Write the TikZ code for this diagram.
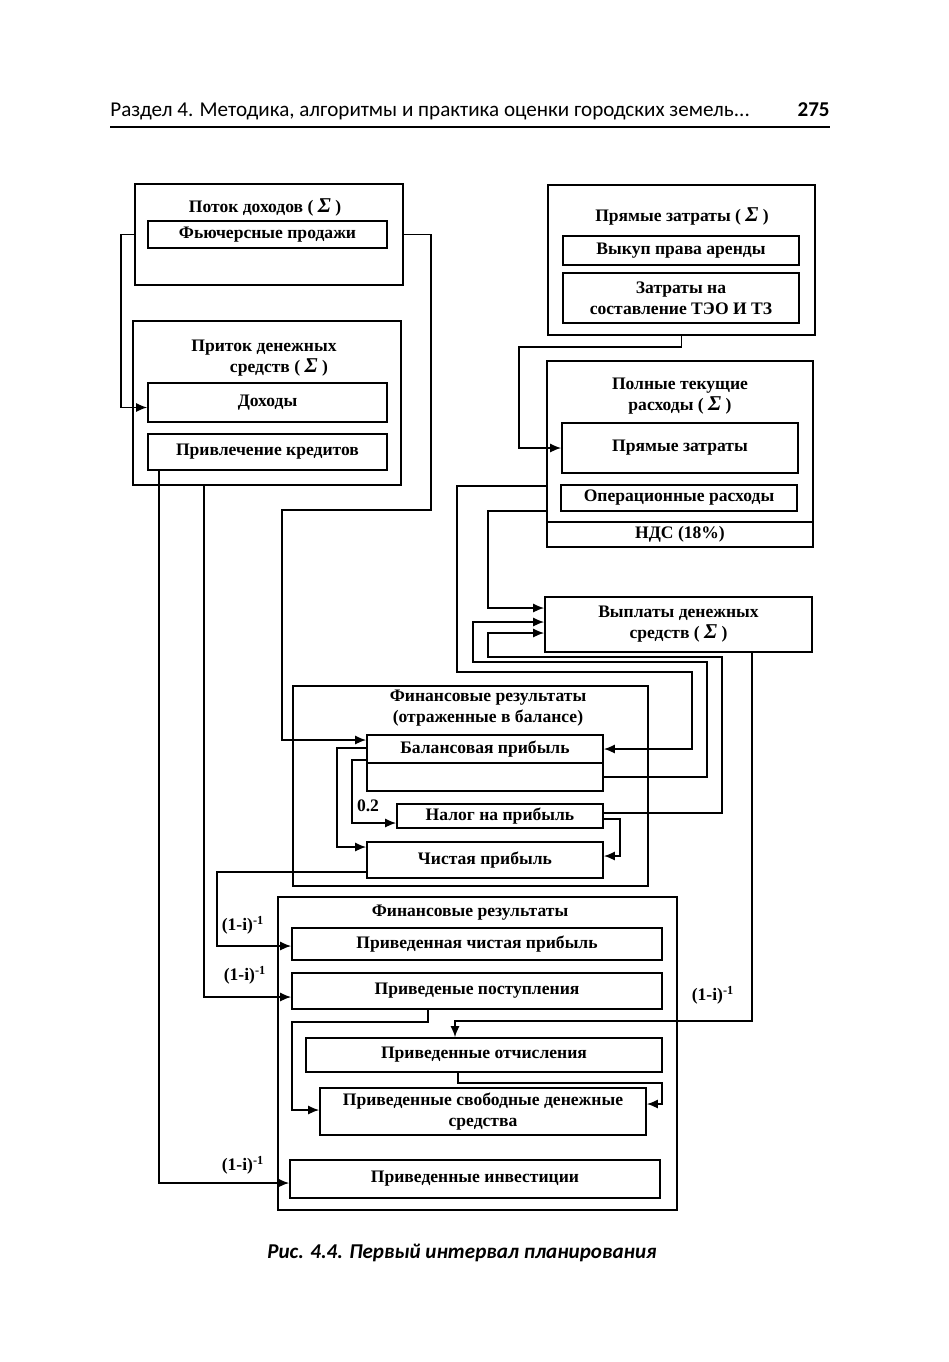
\documentclass[tikz,border=0pt]{standalone}
\usepackage{fontspec}
\setmainfont{Liberation Serif}
\newfontfamily\hdrfont{Carlito}
\usetikzlibrary{arrows.meta,calc}
\newcommand{\sgm}{{\itshape\large Σ}}

\begin{document}
\begin{tikzpicture}[x=0.2mm,y=-0.2mm,>=Latex,
  box/.style={draw,line width=0.9pt,inner sep=1pt,align=center,font=\bfseries},
  ttl/.style={inner sep=0pt,align=center,font=\bfseries},
  arr/.style={line width=0.9pt,-{Latex[length=2.2mm,width=1.8mm]}},
  fac/.style={inner sep=0pt,font=\bfseries}]
\useasboundingbox (0,0) rectangle (949,1362);
\node[anchor=base west,inner sep=0pt,font=\hdrfont\fontsize{12}{14}\selectfont] (hdr) at (110,116) {Раздел 4. Методика, алгоритмы и практика оценки городских земель...};
\node[anchor=base east,inner sep=0pt,font=\hdrfont\bfseries\fontsize{12}{14}\selectfont] (pg) at (830,116) {275};
\draw[line width=1.6pt] (hdr.west |- 0,127) -- (pg.east |- 0,127);
\node[box,minimum width=53.6mm,minimum height=20.2mm] (potok) at (269,234.5) {};
\node[ttl] (potokT) at (265,207) {Поток доходов ( \sgm\ )};
\node[box,minimum width=47.8mm,minimum height=5.4mm] (fut) at (267.5,234.5) {Фьючерсные продажи};
\node[box,minimum width=53.6mm,minimum height=32.8mm] (pritok) at (267,403) {};
\node[ttl] (pritokT) at (264,358) {Приток денежных\\\hspace*{1.7em}средств ( \sgm\ )};
\node[box,minimum width=47.8mm,minimum height=7.8mm] (doh) at (267.5,402.5) {Доходы};
\node[box,minimum width=47.8mm,minimum height=7.2mm] (kred) at (267.5,452) {Привлечение кредитов};
\node[box,minimum width=53.4mm,minimum height=30mm] (pryam) at (681.5,260) {};
\node[ttl] (pryamT) at (682,216) {Прямые затраты ( \sgm\ )};
\node[box,minimum width=47.2mm,minimum height=5.8mm] (vykup) at (681,250.5) {Выкуп права аренды};
\node[box,minimum width=47.2mm,minimum height=10mm] (teo) at (681,298) {Затраты на\\составление ТЭО И ТЗ};
\node[box,minimum width=53.2mm,minimum height=32.2mm] (poln) at (680,441.5) {};
\node[ttl] (polnT) at (680,396) {Полные текущие\\расходы ( \sgm\ )};
\node[box,minimum width=47.2mm,minimum height=10mm] (pz) at (680,448) {Прямые затраты};
\node[box,minimum width=47.2mm,minimum height=5.2mm] (oper) at (679,498) {Операционные расходы};
\node[box,minimum width=53.2mm,minimum height=5mm] (nds) at (680,534.5) {НДС (18\%)};
\node[box,minimum width=53.4mm,minimum height=11mm] (vypl) at (678.5,624.5) {Выплаты денежных\\средств ( \sgm\ )};
\node[box,minimum width=71mm,minimum height=40mm] (finb) at (470.5,786) {};
\node[ttl] (finbT) at (488,708) {Финансовые результаты\\(отраженные в балансе)};
\node[box,minimum width=47.2mm,minimum height=5.6mm] (bal) at (485,749) {Балансовая прибыль};
\node[box,minimum width=47.2mm,minimum height=5.6mm] (balx) at (485,777) {};
\node[box,minimum width=41.2mm,minimum height=4.8mm] (nalog) at (500,816) {Налог на прибыль};
\node[box,minimum width=47.2mm,minimum height=7.2mm] (chist) at (485,860) {Чистая прибыль};
\node[box,minimum width=79.8mm,minimum height=62.6mm] (fin) at (477.5,1053.5) {};
\node[ttl] (finT) at (470,913) {Финансовые результаты};
\node[box,minimum width=74mm,minimum height=6.4mm] (pchp) at (477,944) {Приведенная чистая прибыль};
\node[box,minimum width=74mm,minimum height=7.2mm] (ppost) at (477,991) {Приведеные поступления};
\node[box,minimum width=71.2mm,minimum height=6.8mm] (potch) at (484,1055) {Приведенные отчисления};
\node[box,minimum width=65.2mm,minimum height=9.4mm] (psvob) at (483,1111.5) {Приведенные свободные денежные\\средства};
\node[box,minimum width=74mm,minimum height=7.6mm] (pinv) at (475,1179) {Приведенные инвестиции};
\draw[arr] (potok.west |- fut) -- ++(-13,0) |- ($(doh.west)+(0,5)$);
\draw[arr] (potok.east |- fut) -- ++(27,0) |- (282,510) |- ($(bal.west)+(0,-9)$);
\draw[arr] (pryam.south) |- (519,347) |- (pz.west);
\draw[arr] ($(poln.south west)+(0,-12)$) -- ++(-58,0) |- ($(vypl.west)+(0,-16.5)$);
\draw[arr] ($(poln.south west)+(0,-37)$) -- ++(-89,0) |- (692,672) |- (bal.east);
\draw[arr] (balx.east) -| (707,662) -- (473,662) |- ($(vypl.west)+(0,-2.5)$);
\draw[arr] ($(nalog.east)+(0,-3)$) -| (722,657) -- (488,657) |- ($(vypl.west)+(0,8.5)$);
\draw[arr] ($(vypl.south)+(73.5,0)$) -- ++(0,368) -| ($(potch.north)+(-29,0)$);
\node[fac] (f4) at (713,995) {(1-i)\textsuperscript{-1}};
\draw[arr] ($(bal.west)+(0,-1)$) -- ++(-29,0) |- ($(chist.west)+(0,-13)$);
\draw[arr] ($(bal.west)+(0,11)$) -- ++(-14,0) |- ($(nalog.west)+(0,7)$);
\node[fac] (k02) at (368,806) {0.2};
\draw[arr] ($(nalog.east)+(0,3)$) -- ++(16,0) |- ($(chist.east)+(0,-4)$);
\draw[arr] ($(chist.west)+(0,12)$) -- ++(-149,0) |- ($(pchp.west)+(0,2)$);
\node[fac] (f1) at (243,925) {(1-i)\textsuperscript{-1}};
\draw[arr] ($(pritok.south west)+(72,0)$) |- ($(ppost.west)+(0,6)$);
\node[fac] (f2) at (245,975) {(1-i)\textsuperscript{-1}};
\draw[arr] ($(kred.south west)+(12,0)$) |- ($(pinv.west)+(0,4)$);
\node[fac] (f3) at (243,1165) {(1-i)\textsuperscript{-1}};
\draw[arr] ($(ppost.south)+(-49,0)$) -- ++(0,12) -- ++(-136,0) |- ($(psvob.west)+(0,-1.5)$);
\draw[arr] ($(potch.south)+(-26,0)$) -- ++(0,10) -- ++(204,0) |- ($(psvob.east)+(0,-7.5)$);
\node[inner sep=0pt,font=\hdrfont\bfseries\itshape\fontsize{12}{14}\selectfont] (cap) at (462,1253) {Рис. 4.4. Первый интервал планирования};
\end{tikzpicture}
\end{document}
